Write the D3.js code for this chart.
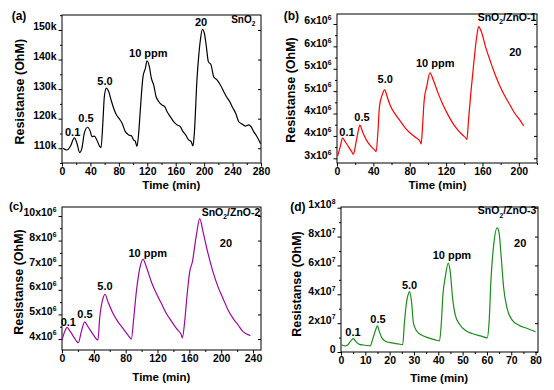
<!DOCTYPE html>
<html><head><meta charset="utf-8">
<script src="https://cdn.jsdelivr.net/npm/d3@7"></script>
<style>
body{margin:0;background:#fff}
svg{display:block}
text{font-family:"Liberation Sans",Arial,Helvetica,sans-serif;font-weight:bold;fill:#000}
</style>
</head><body>
<svg id="chart" width="554" height="390"></svg>
<script>
// ---------- data ----------
// (a) SnO2, resistance in kOhm
const timeA=[1.4,7,11.7,17.4,21,24.9,28,31.4,36,39.9,42,45.5,49,53,54.9,57.7,59.6,62.4,65.7,69,72.7,76.5,80.2,84.4,89.1,93.8,97.6,100.8,103.2,105.5,107.9,110.2,114,117.3,119.6,122.9,125.7,129,132.3,136,140.7,144.5,147.7,152.4,157.1,161.8,166.5,170.3,174,178.2,181.5,184.3,186.2,190,192.3,194.7,197.5,200.3,203.1,205.9,209.7,213.4,218.1,222.8,227.5,231.2,235.9,240.6,244.4,248.6,253.3,258,262.7,266,269.7,274.4,279.5];
const resA=[110.0,109.4,110.6,113.5,111.7,108.5,110.0,115.1,117.1,115.6,113.9,114.1,112.8,110.6,110.2,119.6,127.5,130.3,129.2,126.4,123.5,121.3,120.1,118.5,115.6,114.5,114.2,112.8,112.3,110.6,115.1,123.0,134.2,137.0,139.6,137.6,133.7,131.4,127.5,125.8,124.6,124.1,122.4,120.7,119.0,117.9,117.3,115.6,114.5,112.8,112.3,110.8,115.1,133.7,141.0,146.6,150.2,148.9,144.4,139.3,138.2,134.2,133.1,131.4,129.2,127.5,125.8,123.5,121.8,119.0,118.2,117.5,117.9,117.3,115.6,113.9,111.5];
// (b) SnO2/ZnO-1, tick units (x10^6)
const timeB=[0.7,3.6,6.1,9,12.6,16.2,18,20.8,23.3,25.1,28,30.5,34.1,37.7,41.3,43.1,44.9,46.7,49.6,52.4,55.7,59.2,64.6,70,75.4,80.8,86.2,91.6,92.6,94.1,95.9,98.7,102.3,105.9,111.3,116.7,122.1,127.5,133,138.2,141.8,142.9,144.7,147.2,150.8,153.7,155.8,158.7,163.4,168.8,174.1,179.5,184.9,190.3,195.7,201.1,205.4];
const resB=[3.05,3.26,3.45,3.37,3.26,3.15,3.09,3.34,3.6,3.74,3.6,3.48,3.35,3.26,3.19,3.15,3.56,4.15,4.41,4.53,4.34,4.15,3.97,3.82,3.67,3.56,3.47,3.37,3.32,3.71,4.3,4.6,4.91,4.75,4.45,4.19,3.97,3.78,3.63,3.52,3.45,3.42,3.86,4.45,5.2,5.72,5.94,5.83,5.49,5.16,4.86,4.6,4.38,4.19,4.0,3.86,3.72];
// (c) SnO2/ZnO-2, tick units
const timeC=[0,3.4,6.3,10.5,14.7,18.8,20.5,24.3,28.5,32.7,39,45.2,47.3,51.5,54,57.8,64.1,70.4,76.6,82.9,87.1,90.1,93.4,97.6,101.8,106,112.3,118.6,124.8,131.1,137.4,143.7,150,151.2,154.1,157.1,160.4,163.8,168.8,173,177.2,183.5,189.7,196,202.3,208.6,214.9,221.2,227.4,236.6];
const resC=[3.96,4.3,4.47,4.3,4.09,3.89,3.85,4.3,4.7,4.5,4.19,3.96,4.84,5.65,5.82,5.51,5.04,4.7,4.43,4.16,4.0,4.84,5.92,6.86,7.24,6.93,6.32,5.85,5.45,5.04,4.73,4.43,4.16,4.05,4.7,5.78,6.73,7.14,8.22,8.89,8.35,7.47,6.73,6.12,5.65,5.18,4.84,4.57,4.3,4.14];
// (d) SnO2/ZnO-3, x10^6 Ohm
const timeD=[0.3,1.6,2.6,3.7,5.1,6.2,7.6,9.9,12,13.1,14.2,15,15.8,16.8,18.1,20.9,23.6,25.4,26,26.8,27.8,28.2,29,29.8,31.2,33.3,36,38.8,40.5,41.2,41.9,42.9,44.1,44.9,45.9,47,48.8,51.1,53.9,57.3,60.1,60.9,61.7,62.8,64.2,65,65.8,66.9,68.3,70.4,73.1,76.6,80];
const resD=[5.1,4.2,4.7,7.0,9.3,7.0,5.3,4.7,4.2,9.3,15.1,18.1,14,9.8,7.7,6.3,5.6,5.1,18.6,32.6,40.7,41.9,34.9,19.8,14.4,11.6,9.8,8.4,7.7,18.6,39.5,52.3,61.6,55.8,37.2,25.6,19.1,15.1,12.8,11.2,9.8,20.9,51.2,74.4,86,82.6,67.4,44.2,30.2,22.1,18.6,16.3,14];

// ---------- ticks ----------
const xTicksA=[0,40,80,120,160,200,240,280];
const xTicksB=[0,40,80,120,160,200];
const xTicksC=[0,40,80,120,160,200,240];
const xTicksD=[0,10,20,30,40,50,60,70,80];
const yTicksA=[110,120,130,140,150];
const yLabelsA=["110k","120k","130k","140k","150k"];
const yTicksB=[3,3.5,4,4.5,5,5.5,6];
const yLabelsB=["3x10^{6}","4x10^{6}","4x10^{6}","5x10^{6}","5x10^{6}","6x10^{6}","6x10^{6}"];
const yTicksC=[4,5,6,7,8,9];
const yLabelsC=["4x10^{6}","5x10^{6}","6x10^{6}","7x10^{6}","8x10^{6}","10x10^{6}"];
const yTicksD=[0,20,40,60,80,100];
const yLabelsD=["0","2x10^{7}","4x10^{7}","6x10^{7}","8x10^{7}","1x10^{8}"];

// ---------- annotations ----------
const concLabels=["0.1","0.5","5.0","10 ppm","20"];
const sampleNames=["SnO_{2}","SnO_{2}/ZnO-1","SnO_{2}/ZnO-2","SnO_{2}/ZnO-3"];
const panelTags=["(a)","(b)","(c)","(d)"];
const colors=["#000000","#ff0000","#9a0a9a","#1b8c1b"];

const panels=[
 {t:timeA,v:resA,xT:xTicksA,xMinorStep:20,yT:yTicksA,yL:yLabelsA,yMinorStep:5,
  xd:[0,280],yd:[105,155.07],L:62,R:261,T:15,B:163,
  ann:[[15,115.6],[33.8,120.1],[60.5,132.8],[121.4,142.1],[195.6,152.7]],name:[255.1,152.4],nameSize:10,
  xt:[171.3,188.5],yt:[20,91.7],tag:[11.7,20]},
 {t:timeB,v:resB,xT:xTicksB,xMinorStep:20,yT:yTicksB,yL:yLabelsB,yMinorStep:0.25,
  xd:[0,220],yd:[2.895,6.223],L:337,R:537,T:14,B:163,
  ann:[[11,3.594],[27.5,3.916],[53.1,4.764],[108.1,5.122],[196.1,5.381]],name:[187,6.073],nameSize:10.5,
  xt:[437.5,188.5],yt:[290.3,90],tag:[283.7,20]},
 {t:timeC,v:resC,xT:xTicksC,xMinorStep:20,yT:yTicksC,yL:yLabelsC,yMinorStep:0.5,
  xd:[0,250],yd:[3.554,9.365],L:62,R:261,T:207,B:350,
  ann:[[7.9,4.704],[28.9,5.017],[54,6.168],[107.7,7.485],[206,7.891]],name:[212.3,9.018],nameSize:10.5,
  xt:[161.3,381],yt:[18.3,282],tag:[9,210]},
 {t:timeD,v:resD,xT:xTicksD,xMinorStep:5,yT:yTicksD,yL:yLabelsD,yMinorStep:10,
  xd:[0,81],yd:[0,100.5],L:341,R:538,T:207,B:352,
  ann:[[4.93,14.1],[15.2,22.9],[28.2,46.4],[45.6,67.2],[73.7,75.3]],name:[68.3,95.4],nameSize:10.5,
  xt:[439.2,382],yt:[297,284],tag:[290.3,211]}
];

const svg=d3.select("#chart");

function rich(sel,str,size){
  sel.text(null);
  const parts=str.split(/([_^]\{[^}]*\})/).filter(s=>s.length);
  let shift=0;
  parts.forEach(p=>{
    if(p[0]==="_"||p[0]==="^"){
      const up=p[0]==="^";
      const d=up?-size*0.4:size*0.3;
      sel.append("tspan").attr("font-size",size*0.65).attr("dy",d-shift).text(p.slice(2,-1));
      shift=d;
    } else {
      sel.append("tspan").attr("dy",-shift).text(p);
      shift=0;
    }
  });
}

panels.forEach((p,i)=>{
  const g=svg.append("g");
  const x=d3.scaleLinear().domain(p.xd).range([p.L,p.R]);
  const y=d3.scaleLinear().domain(p.yd).range([p.B,p.T]);
  const xMinor=d3.range(p.xd[0],p.xd[1]+1e-9,p.xMinorStep).filter(v=>!p.xT.includes(v));
  const yMinor=d3.range(Math.ceil(p.yd[0]/p.yMinorStep)*p.yMinorStep,p.yd[1]+1e-9,p.yMinorStep)
      .filter(v=>!p.yT.some(t=>Math.abs(t-v)<1e-9));

  // minor ticks
  g.append("g").attr("transform",`translate(0,${p.B})`)
   .call(d3.axisBottom(x).tickValues(xMinor).tickSize(2).tickFormat(""))
   .call(a=>a.select(".domain").remove());
  g.append("g").attr("transform",`translate(${p.L},0)`)
   .call(d3.axisLeft(y).tickValues(yMinor).tickSize(2).tickFormat(""))
   .call(a=>a.select(".domain").remove());
  // major x axis
  g.append("g").attr("transform",`translate(0,${p.B})`)
   .call(d3.axisBottom(x).tickValues(p.xT).tickSize(3.5).tickPadding(1.5).tickFormat(d3.format("d")))
   .call(a=>a.select(".domain").remove())
   .call(a=>a.selectAll("text").attr("font-size",10.5).attr("font-family",null));
  // major y axis
  const ya=g.append("g").attr("transform",`translate(${p.L},0)`)
   .call(d3.axisLeft(y).tickValues(p.yT).tickSize(3.5).tickPadding(2).tickFormat(""))
   .call(a=>a.select(".domain").remove());
  ya.selectAll(".tick text").each(function(d,j){
    const t=d3.select(this).attr("font-size",10.5).attr("font-family",null).attr("dy","0.35em");
    rich(t,p.yL[j],10.5);
  });
  // mirrored ticks on right
  g.append("g").attr("transform",`translate(${p.R},0)`)
   .call(d3.axisRight(y).tickValues(p.yT).tickSize(-3).tickFormat(""))
   .call(a=>a.select(".domain").remove());
  g.selectAll(".tick line").attr("stroke","#000").attr("stroke-width",1);

  // frame
  g.append("rect").attr("x",p.L).attr("y",p.T).attr("width",p.R-p.L).attr("height",p.B-p.T)
   .attr("fill","none").attr("stroke","#000").attr("stroke-width",1);

  // curve
  const pts=p.t.map((t,k)=>[t,p.v[k]]);
  g.append("path").datum(pts)
   .attr("d",d3.line().x(d=>x(d[0])).y(d=>y(d[1])).curve(d3.curveMonotoneX))
   .attr("fill","none").attr("stroke",colors[i]).attr("stroke-width",1.2).attr("stroke-linejoin","round");

  // annotations
  p.ann.forEach((a,k)=>{
    g.append("text").attr("x",x(a[0])).attr("y",y(a[1])).attr("dy","0.35em")
     .attr("text-anchor","middle").attr("font-size",11).text(concLabels[k]);
  });
  const nm=g.append("text").attr("x",x(p.name[0])).attr("y",y(p.name[1])).attr("dy","0.35em")
     .attr("text-anchor","middle").attr("font-size",p.nameSize);
  rich(nm,sampleNames[i],p.nameSize);

  // titles
  g.append("text").attr("x",p.xt[0]).attr("y",p.xt[1]).attr("text-anchor","middle")
   .attr("font-size",11.5).text("Time (min)");
  g.append("text").attr("transform",`translate(${p.yt[0]},${p.yt[1]}) rotate(-90)`)
   .attr("text-anchor","middle").attr("dy","0.35em").attr("font-size",12.5).text("Resistanse (OhM)");
  g.append("text").attr("x",p.tag[0]).attr("y",p.tag[1]).attr("font-size",i===2?11.5:12).text(panelTags[i]);
});
</script>
</body></html>
